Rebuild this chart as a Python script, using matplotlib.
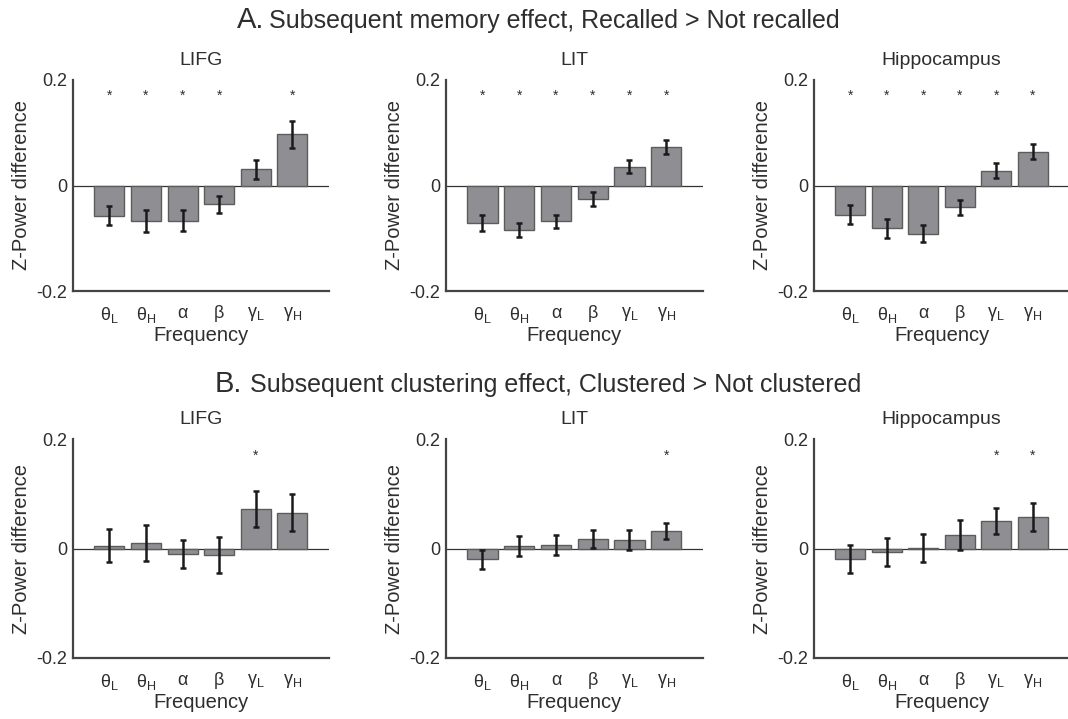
import matplotlib
matplotlib.use("Agg")
import matplotlib.pyplot as plt
import numpy as np

plt.rcParams['font.family'] = ['Liberation Sans', 'DejaVu Sans']
plt.rcParams['mathtext.fontset'] = 'custom'
plt.rcParams['mathtext.rm'] = 'Liberation Sans'

bands = ['θ$_\\mathregular{L}$', 'θ$_\\mathregular{H}$', 'α', 'β', 'γ$_\\mathregular{L}$', 'γ$_\\mathregular{H}$']
regions = ['LIFG', 'LIT', 'Hippocampus']

# Row A: Subsequent memory effect
memA_mean = {
    'LIFG': [-0.057, -0.068, -0.067, -0.036, 0.031, 0.097],
    'LIT': [-0.071, -0.084, -0.068, -0.026, 0.036, 0.073],
    'Hippocampus': [-0.055, -0.081, -0.091, -0.041, 0.028, 0.064],
}
memA_err = {
    'LIFG': [0.018, 0.021, 0.020, 0.017, 0.018, 0.026],
    'LIT': [0.0145, 0.0135, 0.013, 0.013, 0.013, 0.014],
    'Hippocampus': [0.018, 0.018, 0.017, 0.014, 0.014, 0.014],
}
memA_sig = {
    'LIFG': [1, 1, 1, 1, 0, 1],
    'LIT': [1, 1, 1, 1, 1, 1],
    'Hippocampus': [1, 1, 1, 1, 1, 1],
}
# Row B: Subsequent clustering effect
cluB_mean = {
    'LIFG': [0.0055, 0.0098, -0.010, -0.012, 0.0726, 0.066],
    'LIT': [-0.0195, 0.005, 0.007, 0.018, 0.016, 0.032],
    'Hippocampus': [-0.019, -0.006, 0.001, 0.025, 0.051, 0.058],
}
cluB_err = {
    'LIFG': [0.030, 0.033, 0.025, 0.033, 0.033, 0.034],
    'LIT': [0.017, 0.018, 0.018, 0.016, 0.018, 0.015],
    'Hippocampus': [0.026, 0.026, 0.026, 0.027, 0.024, 0.025],
}
cluB_sig = {
    'LIFG': [0, 0, 0, 0, 1, 0],
    'LIT': [0, 0, 0, 0, 0, 1],
    'Hippocampus': [0, 0, 0, 0, 1, 1],
}
star_y = 0.17

W, H = 1068, 719
fig = plt.figure(figsize=(W / 100, H / 100), dpi=100)

col_left = [72.7, 445.7, 814.0]
col_width = [256.3, 257.3, 255.0]
row_top = [80.0, 439.3]
row_bot = [291.0, 658.0]

text_col = '#2e2e2e'
spine_col = '#444444'
bar_face = '#8f8f93'
bar_edge = '#5c5c5c'

rows = [(memA_mean, memA_err, memA_sig), (cluB_mean, cluB_err, cluB_sig)]
x = np.arange(1, 7)

for r, (means, errs, sigs) in enumerate(rows):
    for c, reg in enumerate(regions):
        ax = fig.add_axes([col_left[c] / W, 1 - row_bot[r] / H,
                           col_width[c] / W, (row_bot[r] - row_top[r]) / H])
        ax.bar(x, means[reg], width=0.82, color=bar_face, edgecolor=bar_edge,
               linewidth=1.0, zorder=2)
        ax.errorbar(x, means[reg], yerr=errs[reg], fmt='none', ecolor='#1a1a1a',
                    elinewidth=1.8, capsize=2, capthick=1.8, zorder=3)
        ax.axhline(0, color='#333333', linewidth=0.9, zorder=1)
        for xi, s in zip(x, sigs[reg]):
            if s:
                ax.text(xi, star_y, '*', ha='center', va='center', fontsize=10,
                        color=text_col)
        ax.set_xlim(0, 7)
        ax.set_ylim(-0.2, 0.2)
        ax.set_yticks([-0.2, 0, 0.2])
        ax.set_yticklabels(['-0.2', '0', '0.2'])
        ax.set_xticks(x)
        ax.set_xticklabels(bands)
        ax.tick_params(length=0, labelsize=13, colors=text_col, pad=4)
        ax.tick_params(axis='x', pad=10)
        for s in ['top', 'right']:
            ax.spines[s].set_visible(False)
        for s in ['left', 'bottom']:
            ax.spines[s].set_color(spine_col)
            ax.spines[s].set_linewidth(1.6)
        ax.set_ylabel('Z-Power difference', fontsize=14.5, color=text_col, labelpad=4)
        ax.set_xlabel('Frequency', fontsize=14.5, color=text_col, labelpad=1)
        ax.set_title(reg, fontsize=14, color=text_col, pad=11)

# Section headings
fig.text(264 / W, 1 - 28 / H, 'A.', ha='right', va='baseline', fontsize=21, color=text_col)
fig.text(269 / W, 1 - 28 / H, 'Subsequent memory effect, Recalled > Not recalled',
         ha='left', va='baseline', fontsize=18, color=text_col)
fig.text(242 / W, 1 - 392 / H, 'B.', ha='right', va='baseline', fontsize=21, color=text_col)
fig.text(250 / W, 1 - 392 / H, 'Subsequent clustering effect, Clustered > Not clustered',
         ha='left', va='baseline', fontsize=18, color=text_col)

fig.savefig('out.png', dpi=100)
